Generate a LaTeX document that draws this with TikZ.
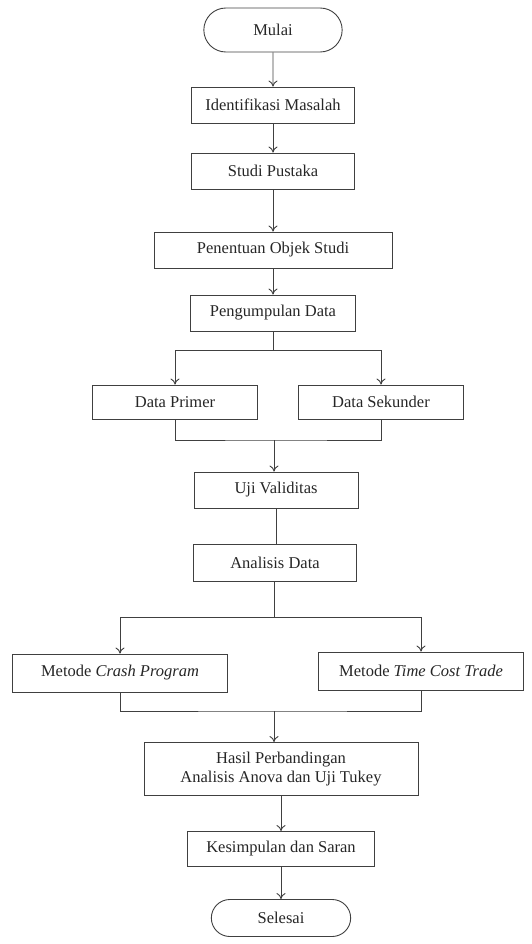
\documentclass[tikz,border=0pt]{standalone}
\usepackage{fontspec}
\setmainfont{Liberation Serif}
\usepackage{tikz}
\usetikzlibrary{arrows.meta,shapes.misc}

\begin{document}
\begin{tikzpicture}
[
x=1pt, y=-1pt,
>={To[length=6pt,width=9pt]},
every node/.style={font=\fontsize{16.5}{19.5}\selectfont, text=black!85},
terminal/.style={rounded rectangle, draw=black!75, line width=0.9pt, minimum width=145pt, minimum height=44pt},
process/.style={rectangle, draw=black!75, line width=0.9pt, minimum height=36pt},
line/.style={draw=black!75, line width=0.9pt}
]
\useasboundingbox (0,0) rectangle (531,944);

%Nodes
\node[terminal]     (mulai)       at (273,30)    {Mulai};
\node[process, minimum width=163pt]  (identifikasi) at (273,105)  {Identifikasi Masalah};
\node[process, minimum width=163pt]  (studi)        at (273,171)  {Studi Pustaka};
\node[process, minimum width=238pt]  (objek)        at (273,250)  {Penentuan Objek Studi};
\node[process, minimum width=165pt]  (kumpul)       at (273,313)  {Pengumpulan Data};
\node[process, minimum width=165pt, minimum height=34pt]  (primer)   at (175,402)  {Data Primer};
\node[process, minimum width=165pt, minimum height=34pt]  (sekunder) at (381,402)  {Data Sekunder};
\node[process, minimum width=164pt]  (uji)          at (276,490)  {Uji Validitas};
\node[process, minimum width=163pt, minimum height=37pt]  (analisis) at (275,563)  {Analisis Data};
\node[process, minimum width=215pt, minimum height=38pt]  (crash)    at (120,673)  {Metode \textit{Crash Program}};
\node[process, minimum width=205pt, minimum height=38pt]  (tcta)     at (421,671)  {Metode \textit{Time Cost Trade}};
\node[process, minimum width=274pt, minimum height=53pt, align=center] (hasil) at (281,769)
      {Hasil Perbandingan\\Analisis Anova dan Uji Tukey};
\node[process, minimum width=187pt, minimum height=35pt]  (simpul)   at (281,849)  {Kesimpulan dan Saran};
\node[terminal, minimum width=146pt, minimum height=37pt] (selesai)  at (281,918)  {Selesai};

\coordinate (bagi1)  at (273,350);
\coordinate (gabung1) at (274,440);
\coordinate (bagi2)  at (274,617);
\coordinate (gabung2) at (274,711);

%Lines
\path[line, ->]
          (mulai)        edge  (identifikasi)
          (identifikasi) edge  (studi)
          (studi)        edge  (objek)
          (objek)        edge  (kumpul);
\draw[line] (kumpul) -- (bagi1);
\draw[line, ->] (bagi1) -| (primer);
\draw[line, ->] (bagi1) -| (sekunder);
\draw[line] (primer.south) |- (gabung1) -| (sekunder.south);
\draw[line, ->] (gabung1) -- (gabung1 |- uji.north);
\draw[line] (uji.south) -- (uji.south |- analisis.north);
\draw[line] (analisis.south -| bagi2) -- (bagi2);
\draw[line, ->] (bagi2) -| (crash);
\draw[line, ->] (bagi2) -| (tcta);
\draw[line] (crash.south) |- (gabung2) -| (tcta.south);
\draw[line, ->] (gabung2) -- (gabung2 |- hasil.north);
\draw[line, ->] (hasil.south -| simpul) -- (simpul);
\draw[line, ->] (simpul) -- (simpul |- selesai.north);

\end{tikzpicture}
\end{document}
